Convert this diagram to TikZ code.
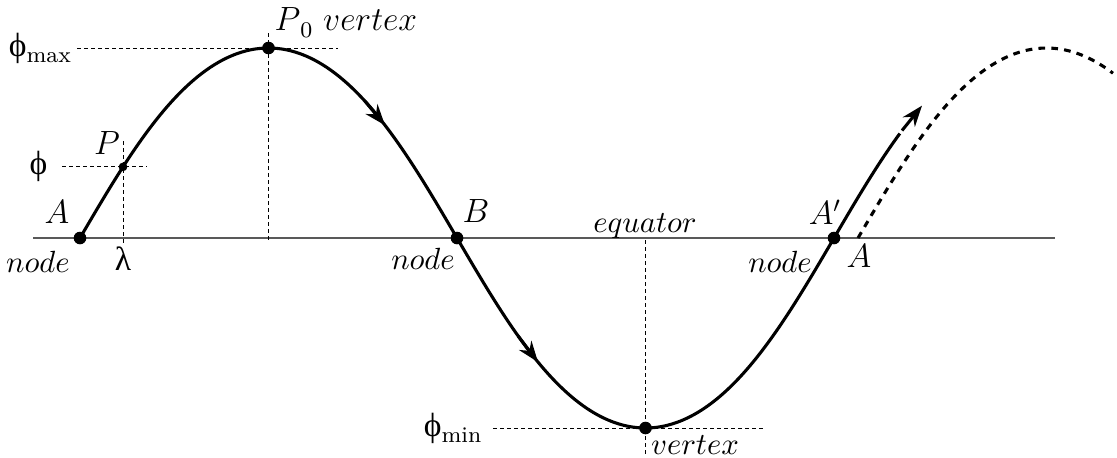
\documentclass[tikz,border=0pt]{standalone}
\usepackage{fontspec}
\newfontfamily\grk{Liberation Serif}
\usetikzlibrary{arrows.meta,positioning}
\tikzset{
  >={Stealth[length=7.5pt,width=5.5pt]},
  declare function={lat(\s)=1.90*atan(0.5*sin(\s*180/3.77))/atan(0.5);},
}
\newcommand{\sub}[1]{\raisebox{-0.55ex}{\footnotesize #1}}

\begin{document}
\begin{tikzpicture}[x=1.255cm,y=1.255cm,
  orbit/.style={line width=1.1pt},
  guide/.style={line width=0.35pt, dash pattern=on 1.4pt off 1.1pt},
  dot/.style={circle, fill, inner sep=0pt, minimum size=4.5pt},
  small dot/.style={circle, fill, inner sep=0pt, minimum size=3.1pt},
  lbl/.style={inner sep=0pt},
  word/.style={inner sep=0pt, font=\fontsize{11pt}{13pt}\selectfont}
]
  \useasboundingbox (0,0) rectangle (11.17,4.57);
  % equator
  \draw[black!65, line width=0.6pt] (0.33,2.19) -- (10.55,2.19);
  % points on the track
  \coordinate (A) at (0.80,2.19);
  \coordinate (P) at ({0.80+0.43},{2.19+lat(0.43)});
  \coordinate (P0) at (2.685,4.09);
  \coordinate (B) at (4.57,2.19);
  \coordinate (V) at (6.455,0.29);
  \coordinate (A1) at (8.34,2.19);
  \coordinate (A2) at (8.58,2.19);
  % guide lines
  \draw[guide] (0.77,4.09) coordinate (maxl) -- (3.38,4.09);
  \draw[guide] (2.685,4.24) -- (2.685,2.14);
  \draw[guide] (0.62,0 |- P) coordinate (phil) -- (1.47,0 |- P);
  \draw[guide] (1.23,3.16) -- (1.23,2.14) coordinate (laml);
  \draw[guide] (6.455,2.17) -- (6.455,0.03);
  \draw[guide] (4.93,0.29) coordinate (minl) -- (7.65,0.29);
  % ground track
  \draw[orbit] plot[domain=0:8.2, samples=160, smooth] ({0.80+\x},{2.19+lat(\x)});
  \draw[orbit, dash pattern=on 2.4pt off 2.2pt] plot[domain=0:2.55, samples=60, smooth] ({8.58+\x},{2.19+lat(\x)});
  % direction arrows
  \foreach \s/\t in {2.85/3.05, 4.38/4.58, 8.22/8.42}
    \draw[orbit, ->] ({0.80+\s},{2.19+lat(\s)}) -- ({0.80+\t},{2.19+lat(\t)});
  % dots
  \node[dot] (nA) at (A) {};
  \node[small dot] (nP) at (P) {};
  \node[dot] (nP0) at (P0) {};
  \node[dot] (nB) at (B) {};
  \node[dot] (nV) at (V) {};
  \node[dot] (nA1) at (A1) {};
  % labels
  \node[lbl, left=2pt of maxl] (phimax) {{\grk\large ϕ}\sub{max}};
  \node[lbl, anchor=base west] (p0lab) at (2.74,4.27) {\large$P$\sub{0}\ $vertex$};
  \node[lbl] (plab) at (1.07,3.14) {\large$P$};
  \node[lbl, left=5pt of phil] (philab) {\grk\large ϕ};
  \node[lbl, below=1pt of laml] (lamlab) {\grk\large λ};
  \node[lbl] (alab) at (0.57,2.45) {\large$A$};
  \node[word] (anode) at (0.38,1.95) {$node$};
  \node[lbl] (blab) at (4.76,2.46) {\large$B$};
  \node[word] (bnode) at (4.23,1.98) {$node$};
  \node[word, anchor=base] (eq) at (6.45,2.25) {$equator$};
  \node[lbl, left=4pt of minl] (phimin) {{\grk\large ϕ}\sub{min}};
  \node[word] (vlab) at (6.95,0.12) {$vertex$};
  \node[lbl] (a1lab) at (8.25,2.45) {\large$A'$};
  \node[word] (a1node) at (7.80,1.95) {$node$};
  \node[lbl] (a2lab) at (8.59,2.01) {\large$A$};
\end{tikzpicture}
\end{document}
